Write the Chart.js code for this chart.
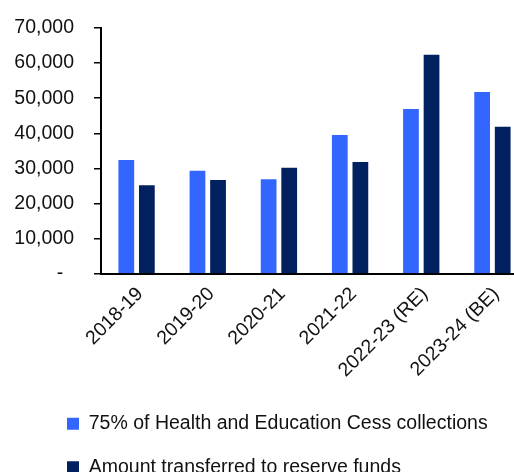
<!DOCTYPE html>
<html>
<head>
<meta charset="utf-8">
<script src="https://cdn.jsdelivr.net/npm/chart.js@4/dist/chart.umd.min.js"></script>
<style>
  html, body { margin: 0; padding: 0; background: #fff; overflow: hidden; }
  #wrap { width: 514px; height: 472px; overflow: hidden; }
</style>
</head>
<body>
<div id="wrap"><canvas id="c" width="528" height="487"></canvas></div>
<script>
// Financial years shown on the category axis
const years = ['2018-19', '2019-20', '2020-21', '2021-22', '2022-23 (RE)', '2023-24 (BE)'];
// Rs crore
const cessCollections75 = [32400, 29300, 26900, 39500, 46900, 51800];
const reserveTransfers = [25200, 26700, 30200, 31800, 62400, 41900];
// Value axis labels, accounting style (zero shown as a dash)
const yTickLabels = ['-', '10,000', '20,000', '30,000', '40,000', '50,000', '60,000', '70,000'];

const FONT = { family: '"Liberation Sans", Arial, sans-serif', size: 19.5 };
const INK = '#111';

// Nudge the legend block to the right so both rows start under the axis labels
const legendShift = {
  id: 'legendShift',
  afterLayout(chart) {
    const lg = chart.legend;
    if (lg) { lg.left += 43; lg.right += 43; }
  }
};

new Chart(document.getElementById('c'), {
  type: 'bar',
  data: {
    labels: years,
    datasets: [
      {
        label: '75% of Health and Education Cess collections',
        data: cessCollections75,
        backgroundColor: '#3366FF',
        categoryPercentage: 0.578,
        barPercentage: 0.766
      },
      {
        label: 'Amount transferred to reserve funds',
        data: reserveTransfers,
        backgroundColor: '#002060',
        categoryPercentage: 0.578,
        barPercentage: 0.766
      }
    ]
  },
  options: {
    responsive: false,
    animation: false,
    layout: { padding: { top: 28, left: 0, right: 0, bottom: 0 } },
    plugins: {
      tooltip: { enabled: false },
      legend: {
        position: 'bottom',
        align: 'start',
        labels: {
          boxWidth: 12,
          boxHeight: 12,
          padding: 24,
          color: INK,
          font: FONT
        }
      }
    },
    scales: {
      x: {
        grid: { display: false },
        border: { display: true, color: '#000', width: 2 },
        ticks: {
          color: INK,
          font: FONT,
          minRotation: 45,
          maxRotation: 45,
          autoSkip: false,
          padding: 1,
          labelOffset: 3.5
        },
        afterFit(scale) {
          scale.height = 116.3;
          scale.paddingLeft = 0;
          scale.paddingRight = 0;
        }
      },
      y: {
        min: 0,
        max: 70000,
        grid: {
          drawOnChartArea: false,
          drawTicks: true,
          tickLength: 7,
          color: '#000',
          lineWidth: 1.5
        },
        border: { display: true, color: '#000', width: 2 },
        ticks: {
          stepSize: 10000,
          color: INK,
          font: FONT,
          padding: 20,
          callback: (value, index) => {
            const t = yTickLabels[index];
            return t === '-' ? '-  ' : t;
          }
        },
        afterFit(scale) {
          scale.width = 101;
          scale.paddingTop = 0;
          scale.paddingBottom = 0;
        }
      }
    }
  },
  plugins: [legendShift]
});
</script>
</body>
</html>
